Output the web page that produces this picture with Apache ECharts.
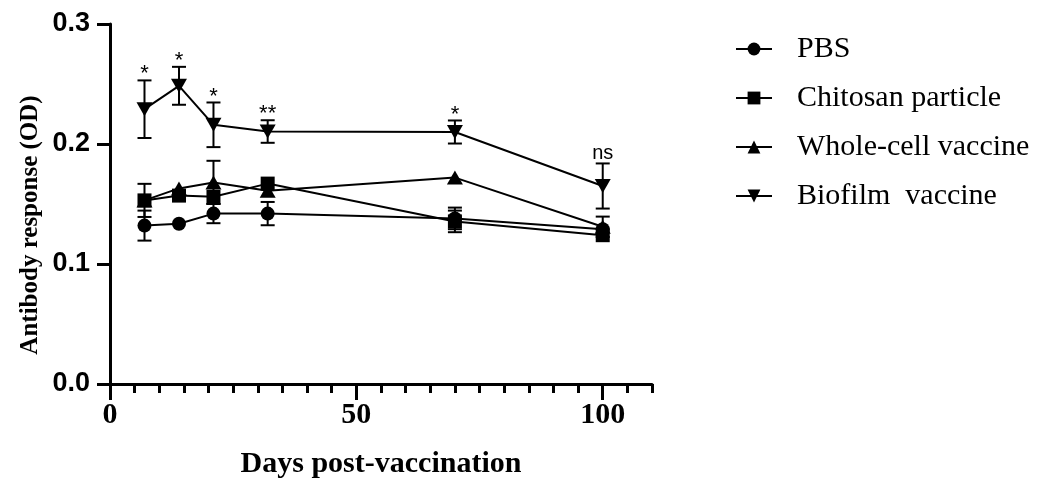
<!DOCTYPE html>
<html><head><meta charset="utf-8">
<script src="https://cdn.jsdelivr.net/npm/echarts@6/dist/echarts.min.js"></script>
<style>html,body{margin:0;padding:0;background:#fff}#c{width:1044px;height:479px}</style>
</head><body><div id="c"></div>
<script>
// ---- data ----
const days = [7, 14, 21, 32, 70, 100];
const seriesNames = ['PBS', 'Chitosan particle', 'Whole-cell vaccine', 'Biofilm  vaccine'];
const pbsMean      = [0.132, 0.1335, 0.142, 0.142, 0.138, 0.129];
const pbsErr       = [0.0125, 0, 0.008, 0.0097, 0.009, 0];
const chitosanMean = [0.153, 0.157, 0.156, 0.167, 0.1355, 0.124];
const chitosanErr  = [0.0138, 0, 0, 0, 0.009, 0];
const wholeMean    = [0.153, 0.163, 0.168, 0.161, 0.172, 0.131];
const wholeErr     = [0, 0, 0.018, 0, 0, 0.0085];
const biofilmMean  = [0.229, 0.2485, 0.216, 0.2104, 0.21, 0.165];
const biofilmErr   = [0.024, 0.0158, 0.0186, 0.0094, 0.0096, 0.0188];
const sigLabels    = ['*', '*', '*', '**', '*', 'ns'];
const xTickLabels  = [0, 50, 100];
const yTicks       = [0, 0.1, 0.2, 0.3];
const yAxisTitle   = 'Antibody response (OD)';
const xAxisTitle   = 'Days post-vaccination';

const means = [pbsMean, chitosanMean, wholeMean, biofilmMean];
const errs = [pbsErr, chitosanErr, wholeErr, biofilmErr];
const symbols = ['circle', 'rect', 'triangle', 'triangle'];
const symbolSizes = [14, 14, [16, 14], [16, 14]];
const symbolRotates = [0, 0, 0, 180];

const SERIF = "'Liberation Serif','Times New Roman',serif";
const SANS = "'Liberation Sans',Arial,sans-serif";

function errBarRender(params, api) {
  const x = api.value(0), lo = api.value(1), hi = api.value(2);
  if (hi - lo <= 0) return null;
  const pTop = api.coord([x, hi]);
  const pBot = api.coord([x, lo]);
  const hw = 7;
  const st = { stroke: '#000', lineWidth: 2 };
  return {
    type: 'group',
    children: [
      { type: 'line', shape: { x1: pTop[0], y1: pTop[1], x2: pBot[0], y2: pBot[1] }, style: st },
      { type: 'line', shape: { x1: pTop[0] - hw, y1: pTop[1], x2: pTop[0] + hw, y2: pTop[1] }, style: st },
      { type: 'line', shape: { x1: pBot[0] - hw, y1: pBot[1], x2: pBot[0] + hw, y2: pBot[1] }, style: st }
    ]
  };
}

const series = [];
means.forEach((m, i) => {
  series.push({
    name: seriesNames[i],
    type: 'line',
    xAxisIndex: 0,
    data: days.map((d, k) => [d, m[k]]),
    symbol: symbols[i],
    symbolSize: symbolSizes[i],
    symbolRotate: symbolRotates[i],
    showAllSymbol: true,
    itemStyle: { color: '#000' },
    lineStyle: { color: '#000', width: 2 },
    z: 3,
    animation: false
  });
});
means.forEach((m, i) => {
  series.push({
    type: 'custom',
    xAxisIndex: 0,
    renderItem: errBarRender,
    data: days.map((d, k) => [d, m[k] - errs[i][k], m[k] + errs[i][k]]),
    encode: { x: 0, y: [1, 2] },
    z: 2,
    silent: true,
    animation: false
  });
});
series.push({
  type: 'custom',
  xAxisIndex: 0,
  renderItem: function (params, api) {
    const x = api.value(0), hi = api.value(1);
    const p = api.coord([x, hi]);
    const txt = sigLabels[params.dataIndex];
    const isStar = txt.indexOf('*') >= 0;
    return {
      type: 'text',
      style: {
        x: p[0], y: p[1] - (isStar ? 6 : 10),
        text: txt,
        fill: '#000',
        font: (isStar ? '22px ' : '20px ') + SANS,
        align: 'center', verticalAlign: 'middle'
      }
    };
  },
  data: days.map((d, k) => [d, biofilmMean[k] + biofilmErr[k]]),
  encode: { x: 0, y: 1 },
  z: 4,
  silent: true,
  animation: false
});

const chart = echarts.init(document.getElementById('c'), null, { renderer: 'canvas' });
chart.setOption({
  backgroundColor: '#fff',
  animation: false,
  grid: { left: 110, top: 24, right: 392, bottom: 95, containLabel: false, outerBoundsMode: 'none' },
  legend: {
    orient: 'vertical',
    left: 730, top: 29,
    padding: 5,
    itemWidth: 36, itemHeight: 16,
    itemGap: 19,
    data: seriesNames,
    textStyle: { fontFamily: SERIF, fontSize: 30, color: '#000', padding: [0, 0, 0, 20] }
  },
  graphic: [{
    type: 'text',
    x: 31, y: 225,
    rotation: Math.PI / 2,
    style: {
      text: yAxisTitle,
      font: 'bold 25px ' + SERIF,
      fill: '#000',
      align: 'center', verticalAlign: 'middle'
    }
  }],
  xAxis: [{
    type: 'value', min: 0, max: 110, interval: 5,
    axisLine: { show: true, lineStyle: { color: '#000', width: 3 } },
    axisTick: { show: true, length: 9, inside: false, lineStyle: { color: '#000', width: 3 } },
    axisLabel: { show: false },
    splitLine: { show: false }
  }, {
    type: 'value', min: 0, max: 110, interval: 50, position: 'bottom',
    axisLine: { show: false },
    axisTick: { show: true, length: 16, customValues: xTickLabels, lineStyle: { color: '#000', width: 3 } },
    axisLabel: { show: true, customValues: xTickLabels, margin: 16, color: '#000', fontFamily: SERIF, fontWeight: 'bold', fontSize: 30 },
    splitLine: { show: false },
    name: xAxisTitle, nameLocation: 'middle', nameGap: 65,
    nameTextStyle: { fontFamily: SERIF, fontWeight: 'bold', fontSize: 30, color: '#000' }
  }],
  yAxis: {
    type: 'value', min: 0, max: 0.3, interval: 0.1,
    axisLine: { show: true, lineStyle: { color: '#000', width: 3 } },
    axisTick: { show: true, length: 13, lineStyle: { color: '#000', width: 3 } },
    axisLabel: { margin: 20, color: '#000', fontFamily: SANS, fontWeight: 'bold', fontSize: 27,
      customValues: yTicks, formatter: v => v.toFixed(1) },
    splitLine: { show: false }
  },
  series: series
});
</script>
</body></html>
